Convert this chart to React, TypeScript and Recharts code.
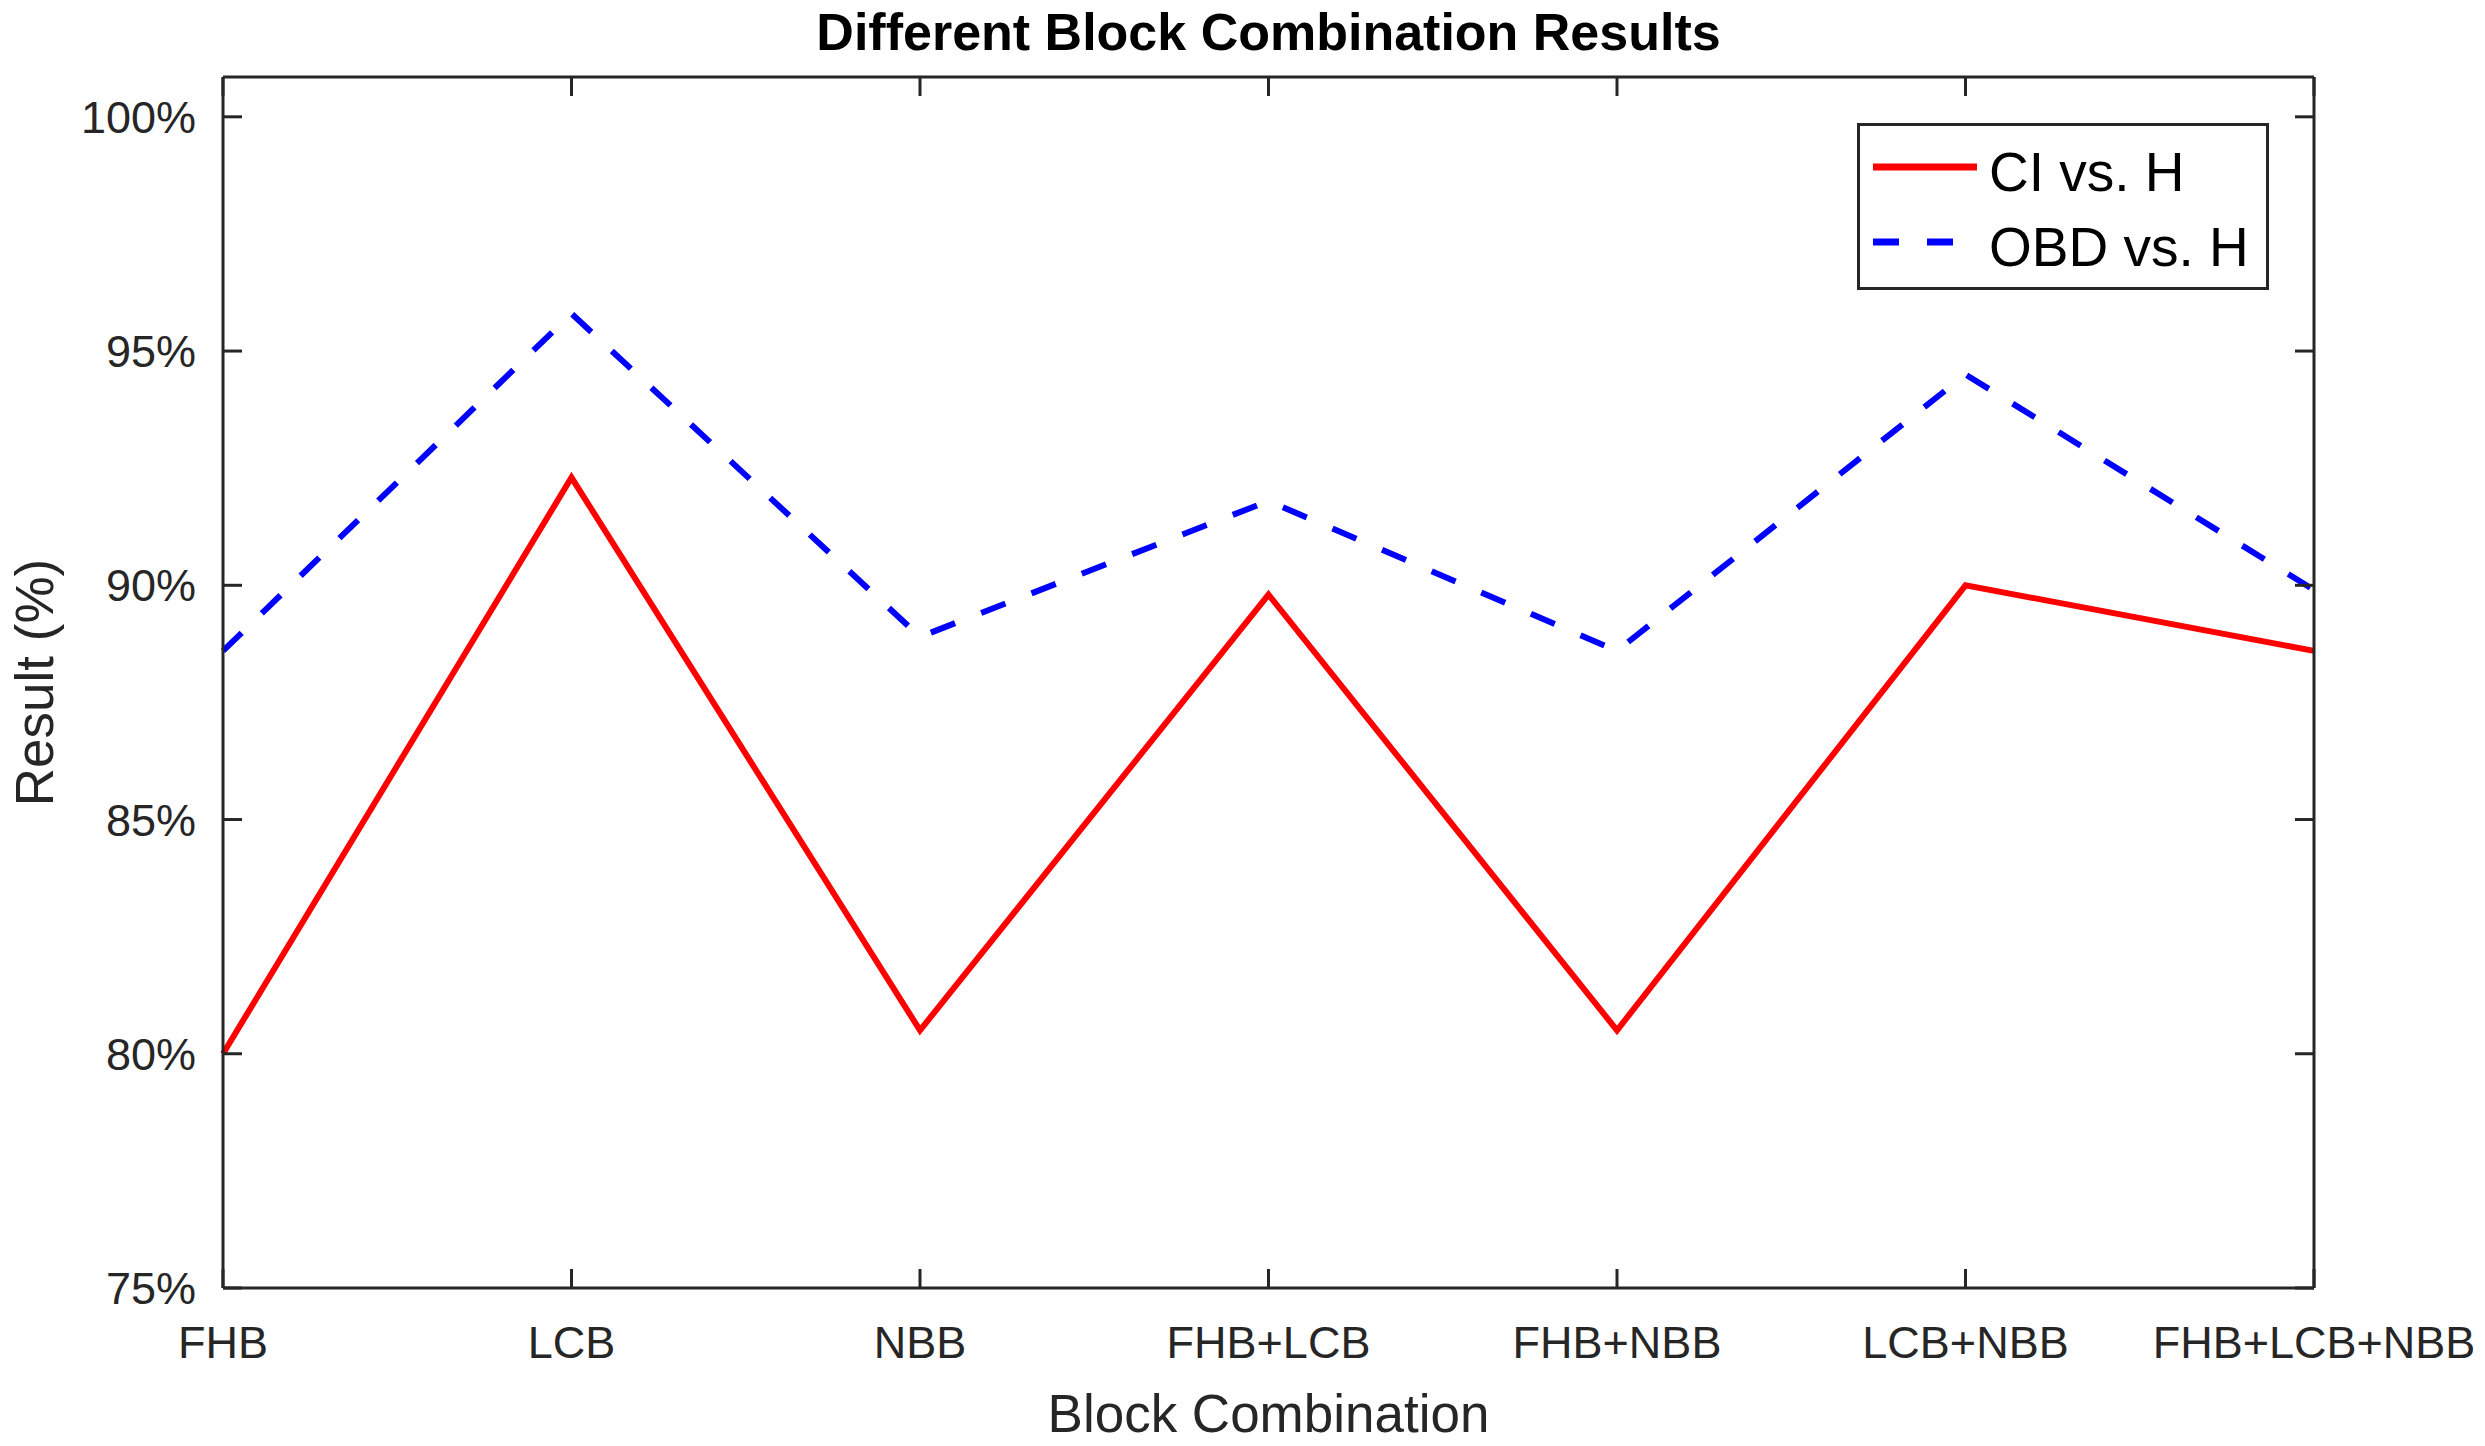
import React from 'react';
import { LineChart, Line, XAxis, YAxis, Legend } from 'recharts';

// Data
const categories = ['FHB', 'LCB', 'NBB', 'FHB+LCB', 'FHB+NBB', 'LCB+NBB', 'FHB+LCB+NBB'];
const ciVsH = [80.0, 92.3, 80.5, 89.8, 80.5, 90.0, 88.6];
const obdVsH = [88.6, 95.8, 88.9, 91.8, 88.6, 94.5, 89.9];
const yTicks = [75, 80, 85, 90, 95, 100];

const data = categories.map((name, i) => ({ name, ci: ciVsH[i], obd: obdVsH[i] }));

const AXIS = '#262626';
const FONT = '"Liberation Sans", Arial, Helvetica, sans-serif';
const TICK_LEN = 19;
const DASH = '26 28';

// MATLAB-style ticks: pointing into the plot box
function LeftTick({ x, y, payload }: any) {
  return (
    <g>
      <line x1={x} y1={y} x2={x + TICK_LEN} y2={y} stroke={AXIS} strokeWidth={3} />
      <text x={x - 27} y={y} dy={16} textAnchor="end" fontSize={45} fill={AXIS} fontFamily={FONT}>
        {payload.value}%
      </text>
    </g>
  );
}

function RightTick({ x, y }: any) {
  return <line x1={x} y1={y} x2={x - TICK_LEN} y2={y} stroke={AXIS} strokeWidth={3} />;
}

function BottomTick({ x, y, payload }: any) {
  return (
    <g>
      <line x1={x} y1={y} x2={x} y2={y - TICK_LEN} stroke={AXIS} strokeWidth={3} />
      <text x={x} y={y + 70} textAnchor="middle" fontSize={45} fill={AXIS} fontFamily={FONT}>
        {payload.value}
      </text>
    </g>
  );
}

function TopTick({ x, y }: any) {
  return <line x1={x} y1={y} x2={x} y2={y + TICK_LEN} stroke={AXIS} strokeWidth={3} />;
}

function ChartTitle({ viewBox }: any) {
  if (!viewBox) return null;
  return (
    <text
      x={viewBox.x + viewBox.width / 2}
      y={viewBox.y - 26}
      textAnchor="middle"
      fontSize={52}
      fontWeight="bold"
      fill="#000"
      fontFamily={FONT}
    >
      Different Block Combination Results
    </text>
  );
}

function XTitle({ viewBox }: any) {
  if (!viewBox) return null;
  return (
    <text
      x={viewBox.x + viewBox.width / 2}
      y={viewBox.y + 144}
      textAnchor="middle"
      fontSize={53}
      fill={AXIS}
      fontFamily={FONT}
    >
      Block Combination
    </text>
  );
}

function YTitle({ viewBox }: any) {
  if (!viewBox) return null;
  const cx = viewBox.x - 169;
  const cy = viewBox.y + viewBox.height / 2;
  return (
    <text
      x={cx}
      y={cy}
      textAnchor="middle"
      transform={`rotate(-90, ${cx}, ${cy})`}
      fontSize={53}
      fill={AXIS}
      fontFamily={FONT}
    >
      Result (%)
    </text>
  );
}

function LegendBox({ payload }: any) {
  const items = payload || [];
  return (
    <svg width={412} height={167} style={{ display: 'block' }}>
      <rect x={1.5} y={1.5} width={409} height={164} fill="#fff" stroke={AXIS} strokeWidth={3} />
      {items.map((entry: any, i: number) => {
        const cy = 44 + i * 75;
        return (
          <g key={entry.value}>
            <line
              x1={16}
              x2={120}
              y1={cy}
              y2={cy}
              stroke={entry.color}
              strokeWidth={7}
              strokeDasharray={entry.payload?.strokeDasharray}
            />
            <text x={132} y={cy + 24} fontSize={55} fill="#000" fontFamily={FONT}>
              {entry.value}
            </text>
          </g>
        );
      })}
    </svg>
  );
}

export default function App() {
  // placed at the page corner so the outer texts stay inside the drawing
  return (
    <div style={{ position: 'absolute', left: 0, top: 0, width: 2485, height: 1446, background: '#fff' }}>
      <LineChart
        width={2485}
        height={1446}
        data={data}
        margin={{ top: 76, right: 170, bottom: 157, left: 222 }}
      >
        <XAxis
          dataKey="name"
          type="category"
          height={1}
          interval={0}
          tickSize={0}
          tickMargin={0}
          tickLine={false}
          tick={<BottomTick />}
          axisLine={{ stroke: AXIS, strokeWidth: 3 }}
          padding={{ left: 0, right: 0 }}
          label={<XTitle />}
        />
        <XAxis
          xAxisId="top"
          orientation="top"
          dataKey="name"
          type="category"
          height={1}
          interval={0}
          tickSize={0}
          tickMargin={0}
          tickLine={false}
          tick={<TopTick />}
          axisLine={{ stroke: AXIS, strokeWidth: 3 }}
          padding={{ left: 0, right: 0 }}
          label={<ChartTitle />}
        />
        <YAxis
          type="number"
          width={1}
          domain={[75, 100.85]}
          ticks={yTicks}
          interval={0}
          allowDataOverflow
          tickSize={0}
          tickMargin={0}
          tickLine={false}
          tick={<LeftTick />}
          axisLine={{ stroke: AXIS, strokeWidth: 3 }}
          label={<YTitle />}
        />
        <YAxis
          yAxisId="right"
          orientation="right"
          type="number"
          width={1}
          domain={[75, 100.85]}
          ticks={yTicks}
          interval={0}
          allowDataOverflow
          tickSize={0}
          tickMargin={0}
          tickLine={false}
          tick={<RightTick />}
          axisLine={{ stroke: AXIS, strokeWidth: 3 }}
        />
        <Legend
          layout="vertical"
          align="center"
          verticalAlign="middle"
          content={<LegendBox />}
          wrapperStyle={{ left: 1857, top: 123, width: 412, height: 167 }}
        />
        <Line
          type="linear"
          dataKey="ci"
          name="CI vs. H"
          stroke="#ff0000"
          strokeWidth={6}
          dot={false}
          activeDot={false}
          isAnimationActive={false}
        />
        <Line
          type="linear"
          dataKey="obd"
          name="OBD vs. H"
          stroke="#0000ff"
          strokeWidth={6}
          strokeDasharray={DASH}
          dot={false}
          activeDot={false}
          isAnimationActive={false}
        />
      </LineChart>
    </div>
  );
}
